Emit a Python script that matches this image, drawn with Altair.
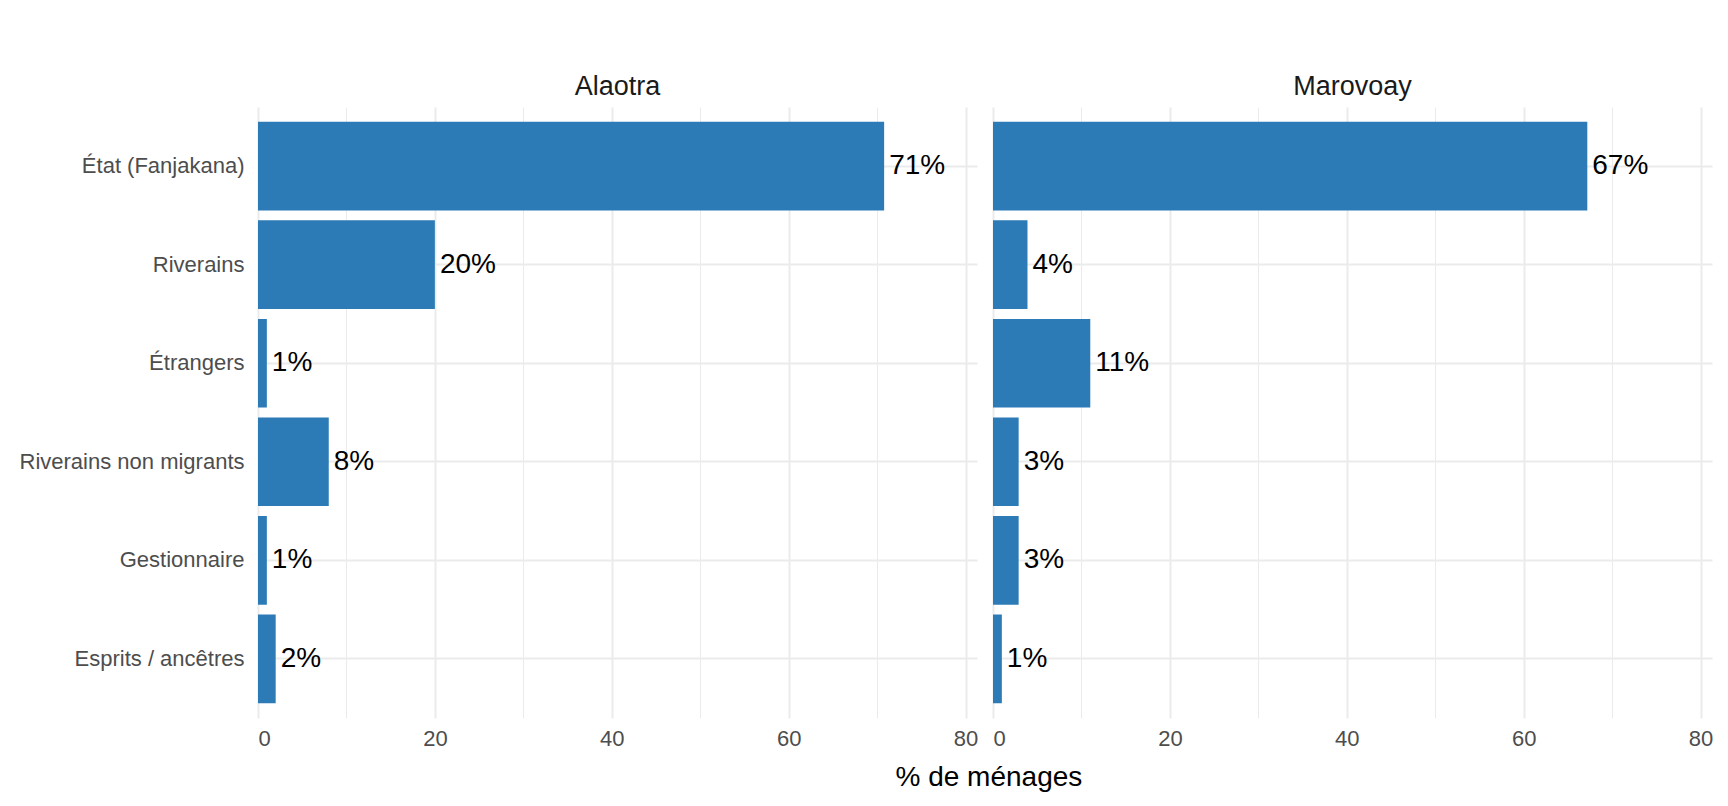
import altair as alt
import pandas as pd

categories = ["État (Fanjakana)", "Riverains", "Étrangers", "Riverains non migrants", "Gestionnaire", "Esprits / ancêtres"]
regions = ["Alaotra", "Marovoay"]
alaotra_values = [70.8, 20.0, 1.0, 8.0, 1.0, 2.0]
marovoay_values = [67.2, 3.9, 11.0, 2.9, 2.9, 1.0]
x_ticks = [0, 10, 20, 30, 40, 50, 60, 70, 80]

rows = []
for reg, vals in zip(regions, [alaotra_values, marovoay_values]):
    for c, v in zip(categories, vals):
        rows.append({"region": reg, "cat": c, "value": v})
df = pd.DataFrame(rows)

FONT = "Liberation Sans"
BLUE = "#2C7BB6"

x_enc = alt.X(
    "value:Q",
    scale=alt.Scale(domain=[0, 81.3], nice=False, zero=True),
    axis=alt.Axis(
        values=x_ticks,
        labelExpr="datum.value % 20 === 0 ? datum.label : ''",
        title=None,
        grid=True,
        gridColor="#EBEBEB",
        gridWidth={"condition": {"test": "datum.value % 20 === 0", "value": 2}, "value": 1},
        ticks=False,
        domain=False,
        labelFontSize=22,
        labelColor="#4D4D4D",
        labelFont=FONT,
        labelPadding=10,
    ),
)
y_enc = alt.Y(
    "cat:N",
    sort=categories,
    scale=alt.Scale(paddingInner=0.1, paddingOuter=0.15),
    axis=alt.Axis(
        title=None,
        grid=True,
        gridColor="#EBEBEB",
        gridWidth=2,
        ticks=False,
        domain=False,
        labelFontSize=22,
        labelColor="#4D4D4D",
        labelFont=FONT,
        labelPadding=14,
        labelLimit=400,
    ),
)

bars = alt.Chart().mark_bar(color=BLUE).encode(x=x_enc, y=y_enc)
texts = (
    alt.Chart()
    .transform_calculate(label="format(datum.value, '.0f') + '%'")
    .mark_text(align="left", baseline="middle", dx=5, fontSize=28, font=FONT, color="black")
    .encode(x="value:Q", y=alt.Y("cat:N", sort=categories), text="label:N")
)

chart = (
    alt.layer(bars, texts, data=df)
    .properties(width=719, height=611)
    .facet(
        column=alt.Column(
            "region:N",
            sort=regions,
            header=alt.Header(
                title=None,
                labelFontSize=27,
                labelFont=FONT,
                labelColor="#1A1A1A",
                labelPadding=6,
            ),
        ),
        spacing=16,
    )
    .properties(
        title=alt.TitleParams(
            "% de ménages",
            orient="bottom",
            anchor="middle",
            dx=123,
            fontSize=28,
            font=FONT,
            fontWeight="normal",
            color="black",
            offset=15,
        ),
        padding={"top": 65, "left": 11, "right": 5, "bottom": 5},
    )
    .configure(background="white")
    .configure_view(stroke="transparent", strokeWidth=0)
)

chart.save("out.html", embed_options={"renderer": "svg", "actions": False})
